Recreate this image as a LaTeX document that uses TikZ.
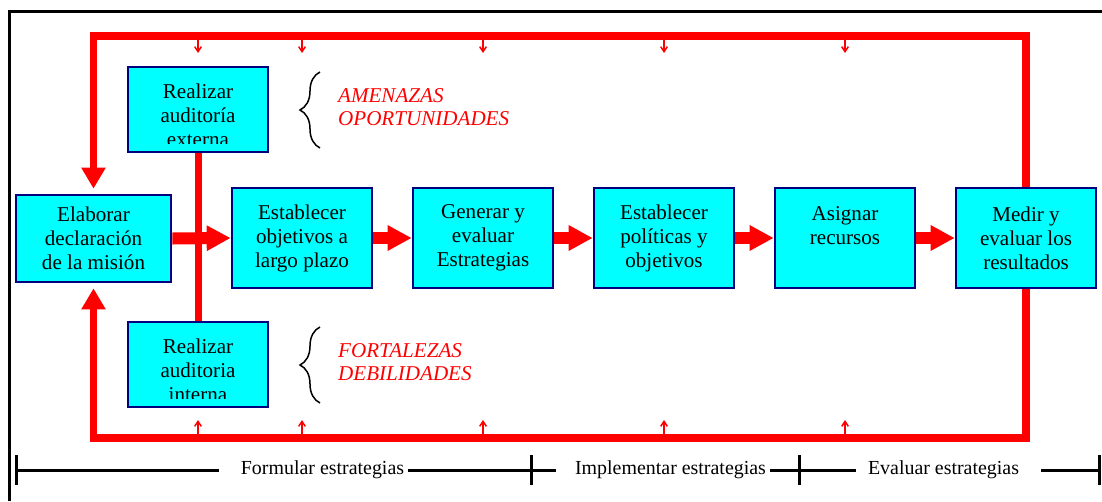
\documentclass[tikz,border=0pt]{standalone}
\usepackage{fontspec}
\setmainfont{Liberation Serif}
\usetikzlibrary{positioning,arrows.meta,decorations.pathreplacing}
\definecolor{caja}{HTML}{00FFFF}
\definecolor{borde}{HTML}{000080}
\definecolor{rojo}{HTML}{FF0000}

\begin{document}
\begin{tikzpicture}[x=0.03cm, y=-0.03cm, node distance=1.15cm,
  box/.style={draw=borde, line width=0.08cm, fill=caja, minimum width=4.2cm, minimum height=3cm, align=center, font=\fontsize{18}{20.5}\selectfont},
  flujo/.style={rojo, line width=0.36cm, -{Triangle[width=0.72cm,length=0.72cm]}},
  lazo/.style={rojo, line width=0.22cm, -{Triangle[width=0.69cm,length=0.63cm]}, shorten >=0.15cm},
  aviso/.style={rojo, line width=0.045cm, -{Straight Barb[length=0.15cm,width=0.2cm]}},
  barra/.style={line width=0.09cm},
  etapa/.style={font=\fontsize{17}{20}\selectfont},
  nota/.style={rojo, anchor=west, align=left, font=\fontsize{18}{19.6}\selectfont\itshape}]
\useasboundingbox (0,0) rectangle (1102,501);

% marco
\draw[line width=0.11cm] (9.5,501) |- (1102,11.5);

% cajas
\node[box, minimum width=4.65cm, minimum height=2.61cm] (elab) at (93.5,238.5) {Elaborar\\declaración\\de la misión};
\node[box] (obj) at (302,238) {Establecer\\objetivos a\\largo plazo};
\node[box] (gen) [right=of obj] {Generar y\\evaluar\\Estrategias};
\node[box] (pol) [right=of gen] {Establecer\\políticas y\\objetivos};
\node[box] (rec) [right=of pol] {Asignar\\recursos\\~};
\node[box] (med) [right=of rec] {Medir y\\evaluar los\\resultados};

\node[box, minimum height=2.55cm] (ext) at (198,109.5) {};
\node[box, minimum height=2.55cm] (int) at (198,364.5) {};
\begin{scope}
  \clip (ext.south west) ++(0,-10) rectangle (ext.north east);
  \node[box, draw=none, fill=none] (exttxt) at ([yshift=-4.7pt]ext.center) {Realizar\\auditoría\\externa};
\end{scope}
\begin{scope}
  \clip (int.south west) ++(0,-10) rectangle (int.north east);
  \node[box, draw=none, fill=none] (inttxt) at ([yshift=-5pt]int.center) {Realizar\\auditoria\\interna};
\end{scope}

% flechas
\coordinate (arriba) at (0,36);
\coordinate (abajo) at (0,438);
\draw[lazo] (med.north) |- (elab.north |- arriba) -- (elab.north);
\draw[lazo] (med.south) |- (elab.south |- abajo) -- (elab.south);
\draw[rojo, line width=0.21cm] (ext.south) -- (int.north);
\draw[flujo] (elab.east) -- (obj.west);
\foreach \a/\b in {obj/gen, gen/pol, pol/rec, rec/med}
  \draw[flujo] (\a.east) -- (\b.west);

\coordinate (sup1) at (0,40);
\coordinate (sup2) at (0,53);
\coordinate (inf1) at (0,434);
\coordinate (inf2) at (0,420);
\foreach \n in {ext,obj,gen,pol,rec} {
  \draw[aviso] (\n |- sup1) -- (\n |- sup2);
  \draw[aviso] (\n |- inf1) -- (\n |- inf2);
}

% llaves
\draw[line width=0.045cm, decorate, decoration={brace, amplitude=0.6cm}] (320,148) -- (320,72);
\draw[line width=0.045cm, decorate, decoration={brace, amplitude=0.6cm}] (320,403) -- (320,327);
\node[nota] (amenazas) at (334,107) {AMENAZAS\\OPORTUNIDADES};
\node[nota] (fortalezas) at (334,362) {FORTALEZAS\\DEBILIDADES};

% etapas
\coordinate (t0) at (16,470);
\coordinate (t1) at (531,470);
\coordinate (t2) at (799,470);
\coordinate (t3) at (1099,470);
\node[etapa] (formular) at (322.5,470) {Formular estrategias};
\node[etapa] (implementar) at (670.5,470) {Implementar estrategias};
\node[etapa] (evaluar) at (943.5,470) {Evaluar estrategias};
\draw[barra, shorten >=0.54cm] (t0) -- (formular.west);
\draw[barra, shorten >=0.45cm] (formular.east) -- (implementar.west);
\draw[barra, shorten >=0.24cm] (implementar.east) -- (evaluar.west);
\draw[barra, shorten <=0.54cm] (evaluar.east) -- (t3);
\foreach \t in {t0,t1,t2,t3}
  \draw[barra] (\t) ++(0,-15) -- ++(0,30);

\end{tikzpicture}
\end{document}
